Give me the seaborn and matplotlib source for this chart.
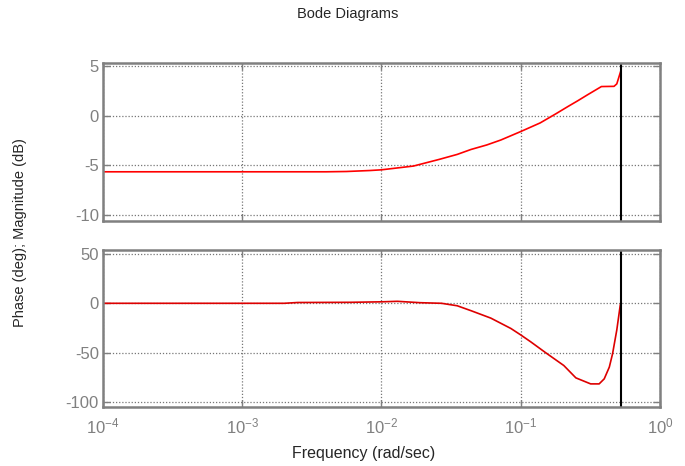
"""Bode diagram of a sampled system, redrawn with seaborn."""

import matplotlib

matplotlib.use("Agg")
import matplotlib.pyplot as plt
import numpy as np
import pandas as pd
import seaborn as sns

# --- data --------------------------------------------------------------
mag_freq = [1e-4, 1e-3, 4e-3, 5.6e-3, 8.3e-3, 0.01, 0.017, 0.026, 0.035,
            0.044, 0.057, 0.072, 0.1, 0.138, 0.178, 0.219, 0.257, 0.302,
            0.38, 0.468, 0.49, 0.5236]
mag_db = [-5.65, -5.65, -5.65, -5.62, -5.52, -5.45, -5.07, -4.4, -3.9,
          -3.4, -2.95, -2.45, -1.6, -0.73, 0.17, 0.93, 1.5, 2.1, 2.93, 2.95,
          3.2, 4.5]

phase_freq = [1e-4, 2e-3, 2.5e-3, 6e-3, 0.01, 0.013, 0.019, 0.027, 0.035,
              0.044, 0.061, 0.085, 0.1, 0.118, 0.151, 0.204, 0.249, 0.318,
              0.366, 0.398, 0.433, 0.457, 0.49, 0.519, 0.5236]
phase_deg = [0, 0, 0.8, 1, 1.5, 2, 0.6, 0, -2.5, -7.5, -15, -25.5, -32,
             -39, -50, -63, -75.5, -81.6, -81.6, -76.5, -64.6, -51, -27,
             -1.7, 0]

nyquist = np.pi / 6
mag_ticks = [-10, -5, 0, 5]
phase_ticks = [-100, -50, 0, 50]

GRAY = "#808080"

sns.set_theme(style="white")
plt.rcParams["font.family"] = ["Liberation Sans", "DejaVu Sans"]
plt.rcParams["axes.unicode_minus"] = False

fig = plt.figure(figsize=(6.85, 4.66), dpi=100)
ax_mag = fig.add_axes([0.1504, 0.5258, 0.813, 0.339])
ax_ph = fig.add_axes([0.1504, 0.1266, 0.813, 0.337], sharex=ax_mag)

mag_df = pd.DataFrame({"freq": mag_freq, "mag": mag_db})
ph_df = pd.DataFrame({"freq": phase_freq, "phase": phase_deg})

sns.lineplot(data=mag_df, x="freq", y="mag", ax=ax_mag, color="red",
             linewidth=1.2, sort=False)
sns.lineplot(data=ph_df, x="freq", y="phase", ax=ax_ph, color="#dd0000",
             linewidth=1.2, sort=False)

for ax, ticks, lims in [(ax_mag, mag_ticks, (-10.6, 5.3)),
                        (ax_ph, phase_ticks, (-105, 54))]:
    ax.set_xscale("log")
    ax.set_xlim(1e-4, 1)
    ax.set_ylim(*lims)
    ax.set_yticks(ticks)
    ax.minorticks_off()
    ax.axvline(nyquist, color="black", linewidth=1.5)
    ax.grid(True, which="major", linestyle=(0, (1, 1.5)), color="#777777",
            linewidth=0.9)
    ax.set_xlabel("")
    ax.set_ylabel("")
    for spine in ax.spines.values():
        spine.set_color(GRAY)
        spine.set_linewidth(1.8)
    ax.tick_params(axis="both", which="major", direction="in", length=5,
                   width=1, color=GRAY, labelcolor=GRAY, labelsize=12,
                   top=True, right=True, bottom=True, left=True)
    ax.tick_params(axis="y", pad=3)

ax_mag.tick_params(axis="x", labelbottom=False)
ax_ph.tick_params(axis="x", pad=7, labelsize=12)

fig.text(0.508, 0.97, "Bode Diagrams", ha="center", va="center",
         fontsize=10.5)
fig.text(0.531, 0.026, "Frequency (rad/sec)", ha="center", va="center",
         fontsize=11.5)
fig.text(0.029, 0.5, "Phase (deg); Magnitude (dB)", ha="center",
         va="center", rotation=90, fontsize=10.5)

fig.savefig("out.png", dpi=100)
plt.close(fig)
